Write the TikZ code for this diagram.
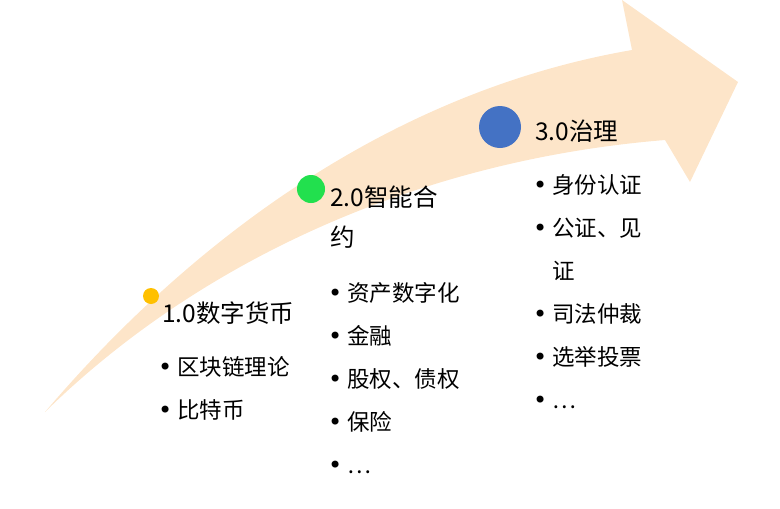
\documentclass[tikz,border=0pt]{standalone}
\usepackage{fontspec}
\setmainfont{Noto Sans CJK SC}
\newfontfamily\bul{DejaVu Sans}
\newcommand{\bu}{{\bul\fontsize{24}{24}\selectfont •}\hspace{5pt}}
\definecolor{gold}{HTML}{FFC000}
\definecolor{grn}{HTML}{22E04E}
\definecolor{blu}{HTML}{4472C4}
\definecolor{band}{HTML}{FDE5C9}
\begin{document}
\begin{tikzpicture}[x=1pt,y=-1pt,
  ttl/.style={anchor=north west,font=\fontsize{24.5}{40}\selectfont,inner sep=0pt,align=left},
  lst/.style={anchor=north west,font=\fontsize{22.5}{43}\selectfont,inner sep=0pt,align=left}]
\useasboundingbox (0,0) rectangle (780,509);
\fill[band] (45,412) .. controls (200,230) and (400,90) .. (632,50)
  -- (622,0) -- (738,82) -- (690,182) -- (665,140)
  .. controls (420,160) and (200,260) .. (45,412) -- cycle;
\fill[gold] (151,296) circle (8);
\fill[grn] (311,189) circle (14);
\fill[blu] (500,127) circle (21);
\node[ttl] (t1) at (162,302) {1.0数字货币};
\node[ttl] (t2) at (330,186) {2.0智能合\\约};
\node[ttl] (t3) at (535,120) {3.0治理};
\node[lst] (l1) at (158,356) {\bu 区块链理论\\\bu 比特币};
\node[lst] (l2) at (328,282) {\bu 资产数字化\\\bu 金融\\\bu 股权、债权\\\bu 保险\\\bu …};
\node[lst] (l3) at (533,174) {\bu 身份认证\\\bu 公证、见\\\phantom{\bu}证\\\bu 司法仲裁\\\bu 选举投票\\\bu …};
\end{tikzpicture}
\end{document}
